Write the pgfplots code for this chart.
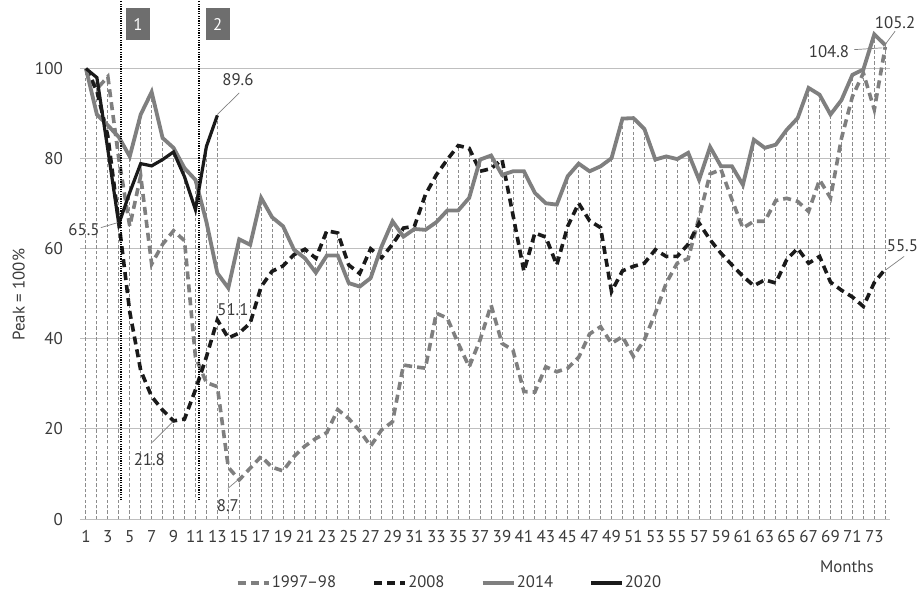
\documentclass[border=0pt]{standalone}
\usepackage{fontspec}
\setmainfont{PT Sans}
\usepackage{pgfplots}
\pgfplotsset{compat=1.18}
\usepackage{pgfplotstable}

\definecolor{sgray}{HTML}{7F7F7F}
\definecolor{sblack}{HTML}{1A1A1A}
\definecolor{gridgray}{HTML}{BFBFBF}
\definecolor{dropgray}{HTML}{8C8C8C}
\definecolor{boxgray}{HTML}{6E6E6E}
\definecolor{txt}{HTML}{3A3A3A}

\pgfplotstableread{
m v
1 100
2 95.5
3 98.2
4 80
5 65
6 76.2
7 56.6
8 61
9 64
10 61.8
11 36
12 30.3
13 29.4
14 11.5
15 8.7
16 11.3
17 13.9
18 11.5
19 10.7
20 13.9
21 16.2
22 17.9
23 19.2
24 24.3
25 22.3
26 19.6
27 16.2
28 19.8
29 21.6
30 34.2
31 33.8
32 33.5
33 45.7
34 44.6
35 39
36 33.8
37 39.8
38 47.5
39 39
40 37.5
41 28.3
42 28.2
43 33.8
44 32.7
45 33.5
46 35.9
47 41.1
48 42.7
49 39
50 40.5
51 36.1
52 39.8
53 45.7
54 52.4
55 56.8
56 57.8
57 67
58 76.6
59 77.6
60 70.9
61 64.6
62 66.1
63 66.1
64 70.7
65 71.2
66 70.5
67 68.3
68 75.3
69 71.3
70 84.5
71 93.8
72 99
73 90.9
74 104.8
}\tA

\pgfplotstableread{
m v
1 100
2 95
3 85
4 66
5 46
6 33
7 27.2
8 24.2
9 21.8
10 22.2
11 28.7
12 36
13 44.2
14 40.2
15 41.3
16 43.5
17 51.6
18 55
19 56.2
20 58.7
21 59.9
22 57.9
23 64
24 63.5
25 56.4
26 54.5
27 60
28 58
29 61
30 64.6
31 65
32 72
33 76.4
34 79.8
35 82.9
36 82.3
37 77.2
38 77.8
39 79.8
40 67.5
41 55
42 63.5
43 62.6
44 56.4
45 65
46 70.1
47 66.2
48 64.7
49 50.5
50 55.1
51 56.1
52 56.8
53 59.8
54 58.3
55 58.3
56 61
57 65.7
58 62
59 59
60 56.4
61 53.9
62 51.8
63 53.1
64 52.4
65 57.6
66 60.1
67 56.8
68 58.3
69 52.6
70 50.8
71 49.3
72 47.2
73 52.5
74 55.5
}\tB

\pgfplotstableread{
m v
1 100
2 89.8
3 87.4
4 84.8
5 80.5
6 89.8
7 94.8
8 84.6
9 82.4
10 77.9
11 75.3
12 66
13 54.6
14 51.3
15 62.1
16 60.9
17 71.3
18 67
19 65
20 59.8
21 57.9
22 54.7
23 58.5
24 58.5
25 52.4
26 51.6
27 53.5
28 60.5
29 66.1
30 62.7
31 64.4
32 64.2
33 65.9
34 68.5
35 68.5
36 71.3
37 79.8
38 80.7
39 76.4
40 77.2
41 77.2
42 72.4
43 70.1
44 69.8
45 76.1
46 78.9
47 77.2
48 78.3
49 80.1
50 88.9
51 89
52 86.6
53 79.8
54 80.5
55 79.9
56 81.3
57 75.3
58 82.6
59 78.3
60 78.3
61 74.2
62 84.2
63 82.4
64 83.1
65 86.4
66 89
67 95.7
68 94.2
69 89.8
70 93
71 98.6
72 99.8
73 107.6
74 105.2
}\tC

\pgfplotstableread{
m v
1 100
2 98
3 82
4 65.5
5 72.5
6 78.9
7 78.4
8 79.8
9 81.5
10 76
11 68.7
12 82.7
13 89.6
}\tD

\begin{document}
\begin{tikzpicture}
\begin{axis}[
  scale only axis, width=404pt, height=258.5pt,
  xmin=0.45, xmax=74.4, ymin=0, ymax=115,
  axis line style={draw=none},
  tick style={draw=none},
  ytick={0,20,...,100},
  xtick={1,3,...,73},
  ymajorgrids, grid style={gridgray, line width=0.5pt},
  font=\fontsize{8.4}{10}\selectfont,
  ticklabel style={font=\fontsize{8.5}{10}\selectfont, text=txt},
  yticklabel style={xshift=-5pt},
  xticklabel style={yshift=-2pt},
  /pgf/number format/assume math mode=true,
  ylabel={Peak = 100\%},
  ylabel style={at={(axis description cs:-0.0755,0.433)}, anchor=center, text=txt},
  clip=false,
  legend columns=4,
  legend style={draw=none, fill=none, at={(0.456,-0.1232)}, anchor=center,
    font=\fontsize{8.3}{10}\selectfont, text=txt,
    nodes={inner xsep=0.6pt},
    /tikz/every even column/.append style={column sep=17.5pt},
    inner sep=0pt},
  legend image code/.code={\draw[#1] (0pt,0pt) -- (15.5pt,0pt);},
]
% drop lines
\addplot[ycomb, dropgray, line width=0.45pt, dash pattern=on 1.6pt off 1.1pt, forget plot] table[x=m,y=v]{\tA};
\addplot[ycomb, dropgray, line width=0.45pt, dash pattern=on 1.6pt off 1.1pt, forget plot] table[x=m,y=v]{\tB};
\addplot[ycomb, dropgray, line width=0.45pt, dash pattern=on 1.6pt off 1.1pt, forget plot] table[x=m,y=v]{\tC};
\addplot[ycomb, dropgray, line width=0.45pt, dash pattern=on 1.6pt off 1.1pt, forget plot] table[x=m,y=v]{\tD};

\addplot[sgray, line width=1.8pt, dash pattern=on 4pt off 2.5pt] table[x=m,y=v]{\tA};
\addlegendentry{1997–98}
\addplot[sblack, line width=1.8pt, dash pattern=on 4pt off 2.5pt] table[x=m,y=v]{\tB};
\addlegendentry{2008}
\addplot[sgray, line width=1.9pt] table[x=m,y=v]{\tC};
\addlegendentry{2014}
\addplot[sblack, line width=1.6pt] table[x=m,y=v]{\tD};
\addlegendentry{2020}

% period markers
\draw[black, line width=1pt, dash pattern=on 0.6pt off 0.6pt] (axis cs:4.2,4.2) -- (axis cs:4.2,115);
\draw[black, line width=1pt, dash pattern=on 0.6pt off 0.6pt] (axis cs:11.29,4.2) -- (axis cs:11.29,115);
\node[fill=boxgray, text=white, minimum width=12pt, minimum height=16pt, inner sep=0pt] at (axis cs:5.76,109.8) {1};
\node[fill=boxgray, text=white, minimum width=12pt, minimum height=16pt, inner sep=0pt] at (axis cs:13.03,109.8) {2};

% annotations
\tikzset{lead/.style={gray, line width=0.35pt}, lab/.style={text=txt, inner sep=0pt}}
\node[lab] at (axis cs:0.82,64.2) {65.5};
\draw[lead] (axis cs:2.37,64.7) -- (axis cs:3.9,65.8);
\node[lab] at (axis cs:14.88,97.6) {89.6};
\draw[lead] (axis cs:15.0,94.6) -- (axis cs:13,89.8);
\node[lab] at (axis cs:14.42,46.4) {51.1};
\node[lab] at (axis cs:6.79,13.1) {21.8};
\draw[lead] (axis cs:6.95,16.8) -- (axis cs:8.93,21.6);
\node[lab] at (axis cs:13.96,3.1) {8.7};
\draw[lead] (axis cs:13.96,6.8) -- (axis cs:15.03,9.0);
\node[lab] at (axis cs:68.86,103.8) {104.8};
\draw[lead] (axis cs:71.15,104.2) -- (axis cs:73.74,104.6);
\node[lab] at (axis cs:74.9,110.1) {105.2};
\draw[lead] (axis cs:74.9,108.3) -- (axis cs:73.98,105.3);
\node[lab] at (axis cs:75.57,60.7) {55.5};
\draw[lead] (axis cs:75.72,58.3) -- (axis cs:74.04,55.3);

\node[text=txt] at (axis cs:70.5,0) [yshift=-24pt] {Months};
\end{axis}
\path (current bounding box.south west) ++(-3pt,0pt);
\end{tikzpicture}
\end{document}
